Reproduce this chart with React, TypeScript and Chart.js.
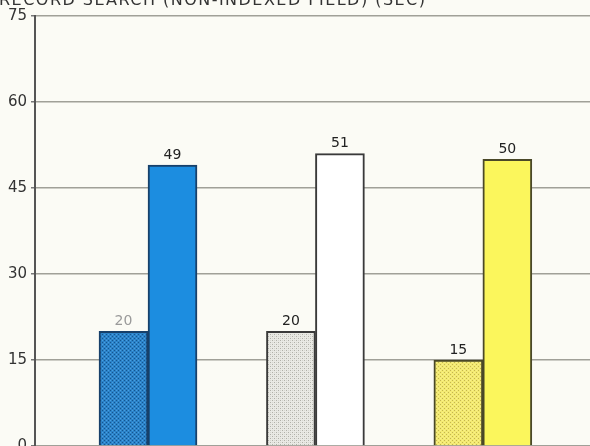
import React, { useEffect, useRef } from "react";
import { Chart, registerables } from "chart.js";

Chart.register(...registerables);

const titleText = "RECORD SEARCH (NON-INDEXED FIELD) (SEC)";
const categories = ["Blue", "White", "Yellow"];
const firstValues = [20, 20, 15];
const secondValues = [49, 51, 50];
const yTicks = [0, 15, 30, 45, 60, 75];

const PAPER = "#fbfbf5";

function makePattern(base: string, dot: string, dot2: string) {
  const c = document.createElement("canvas");
  c.width = 4;
  c.height = 4;
  const g = c.getContext("2d")!;
  g.fillStyle = base;
  g.fillRect(0, 0, 4, 4);
  g.fillStyle = dot;
  g.fillRect(0, 0, 1, 1);
  g.fillRect(2, 2, 1, 1);
  g.fillStyle = dot2;
  g.fillRect(2, 0, 1, 1);
  g.fillRect(0, 2, 1, 1);
  return g.createPattern(c, "repeat")!;
}

export default function App() {
  const ref = useRef<HTMLCanvasElement | null>(null);

  useEffect(() => {
    if (!ref.current) return;
    const blueDots = makePattern("#2b82c8", "#15558f", "#4aa0e0");
    const whiteDots = makePattern("#e9e9e4", "#b0b0a8", "#d6d6d0");
    const yellowDots = makePattern("#f3ea72", "#c4b64e", "#f8f08c");

    const bgPlugin = {
      id: "paperBg",
      beforeDraw(chart: any) {
        const { ctx, width, height } = chart;
        ctx.save();
        ctx.fillStyle = PAPER;
        ctx.fillRect(0, 0, width, height);
        ctx.restore();
      },
    };

    const titlePlugin = {
      id: "cutTitle",
      afterDraw(chart: any) {
        const { ctx } = chart;
        ctx.save();
        ctx.font = "16px 'DejaVu Sans'";
        ctx.fillStyle = "#333";
        ctx.textBaseline = "alphabetic";
        ctx.textAlign = "left";
        const w = ctx.measureText(titleText).width;
        const target = 426;
        const ls = (target - w) / (titleText.length - 1);
        (ctx as any).letterSpacing = ls + "px";
        ctx.fillText(titleText, -1, 5);
        ctx.restore();
      },
    };

    const labelColors = [
      ["#9a9a9a", "#222", "#222"],
      ["#222", "#222", "#222"],
    ];
    const valuePlugin = {
      id: "valueLabels",
      afterDatasetsDraw(chart: any) {
        const { ctx } = chart;
        ctx.save();
        ctx.font = "14px 'DejaVu Sans'";
        ctx.textAlign = "center";
        ctx.textBaseline = "bottom";
        chart.data.datasets.forEach((ds: any, di: number) => {
          const meta = chart.getDatasetMeta(di);
          meta.data.forEach((el: any, i: number) => {
            ctx.fillStyle = labelColors[di][i];
            ctx.fillText(String(ds.data[i].y), el.x, el.y - 3);
          });
        });
        ctx.restore();
      },
    };

    const chart = new Chart(ref.current, {
      type: "bar",
      data: {
        labels: categories,
        datasets: [
          {
            label: "first",
            data: categories.map((_, i) => ({ x: i, y: firstValues[i] })),
            backgroundColor: [blueDots, whiteDots, yellowDots],
            borderColor: ["#17406a", "#3a3a3a", "#4a4828"],
            borderWidth: 2,
            borderSkipped: "bottom",
          },
          {
            label: "second",
            data: categories.map((_, i) => ({ x: i, y: secondValues[i] })),
            backgroundColor: ["#1c8de0", "#ffffff", "#fbf65c"],
            borderColor: ["#17406a", "#3a3a3a", "#4a4828"],
            borderWidth: 2,
            borderSkipped: "bottom",
          },
        ],
      } as any,
      options: {
        animation: false,
        responsive: true,
        maintainAspectRatio: false,
        layout: { padding: { top: 16, left: 0, right: 0, bottom: 0 } },
        datasets: { bar: { barThickness: 49, grouped: true } } as any,
        plugins: {
          legend: { display: false },
          tooltip: { enabled: false },
          title: { display: false },
        },
        scales: {
          x: {
            type: "linear",
            display: false,
            offset: false,
            min: -0.675,
            max: 2.64,
          },
          y: {
            min: 0,
            max: 75,
            afterBuildTicks: (s: any) => {
              s.ticks = yTicks.map((v) => ({ value: v }));
            },
            afterFit: (s: any) => {
              s.width = 35;
              s.paddingTop = 0;
              s.paddingBottom = 0;
            },
            ticks: {
              color: "#333",
              padding: 4,
              font: { family: "'DejaVu Sans'", size: 15 },
            },
            grid: {
              color: "#a0a098",
              lineWidth: 1.5,
              drawTicks: true,
              tickLength: 4,
              tickColor: "#777",
            },
            border: { display: true, color: "#555", width: 2 },
          },
        },
      } as any,
      plugins: [bgPlugin, titlePlugin, valuePlugin],
    });
    return () => chart.destroy();
  }, []);

  return (
    <div style={{ position: "absolute", left: 0, top: 0, width: 590, height: 446, background: PAPER }}>
      <canvas ref={ref} />
    </div>
  );
}
